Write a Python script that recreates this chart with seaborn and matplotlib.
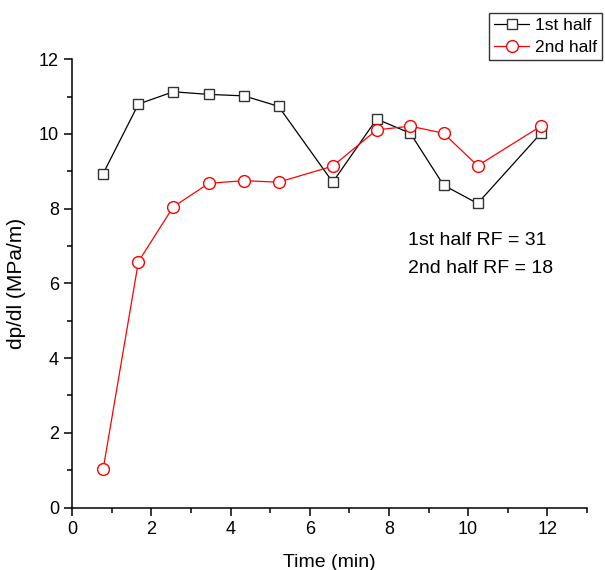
import numpy as np
import pandas as pd
import matplotlib
matplotlib.use('Agg')
import matplotlib.pyplot as plt
import seaborn as sns
from matplotlib.ticker import MultipleLocator

# values
time_1st = [0.78, 1.67, 2.55, 3.45, 4.34, 5.21, 6.58, 7.69, 8.54, 9.38, 10.24, 11.84]
dpdl_1st = [8.94, 10.80, 11.13, 11.06, 11.02, 10.74, 8.71, 10.40, 10.02, 8.63, 8.14, 10.02]

time_2nd = [0.78, 1.67, 2.55, 3.45, 4.34, 5.21, 6.58, 7.69, 8.54, 9.38, 10.24, 11.84]
dpdl_2nd = [1.03, 6.58, 8.05, 8.68, 8.75, 8.71, 9.14, 10.11, 10.21, 10.02, 9.15, 10.21]

series_labels = ['1st half', '2nd half']
notes = ['1st half RF = 31', '2nd half RF = 18']

sns.set_style('ticks')
plt.rcParams['font.family'] = ['Liberation Sans', 'DejaVu Sans']
plt.rcParams.update({'text.color': 'black', 'axes.labelcolor': 'black',
                     'xtick.color': 'black', 'ytick.color': 'black'})

fig = plt.figure(figsize=(6.05, 5.70), dpi=100)
ax = fig.add_axes([0.1195, 0.1096, 0.8505, 0.7864])

df1 = pd.DataFrame({'t': time_1st, 'v': dpdl_1st})
df2 = pd.DataFrame({'t': time_2nd, 'v': dpdl_2nd})

sns.lineplot(data=df1, x='t', y='v', ax=ax, color='black', lw=0.9,
             marker='s', ms=7.5, mfc='white', mec='#333333', mew=1.0,
             label=series_labels[0])
sns.lineplot(data=df2, x='t', y='v', ax=ax, color='red', lw=0.9,
             marker='o', ms=8.5, mfc='white', mec='red', mew=1.0,
             label=series_labels[1])

ax.set_xlim(0, 13)
ax.set_ylim(0, 12)
ax.xaxis.set_major_locator(MultipleLocator(2))
ax.xaxis.set_minor_locator(MultipleLocator(1))
ax.yaxis.set_major_locator(MultipleLocator(2))
ax.yaxis.set_minor_locator(MultipleLocator(1))
ax.tick_params(which='major', direction='out', length=6, width=1.1, labelsize=13)
ax.tick_params(which='minor', direction='out', length=3.5, width=1.1)
for s in ['top', 'right']:
    ax.spines[s].set_visible(False)
for s in ['left', 'bottom']:
    ax.spines[s].set_linewidth(1.1)
    ax.spines[s].set_color('black')

ax.set_xlabel('Time (min)', fontsize=14, labelpad=12)
ax.set_ylabel('dp/dl (MPa/m)', fontsize=15, labelpad=9)

ax.text(8.48, 7.14, notes[0], fontsize=14, va='center', ha='left')
ax.text(8.48, 6.40, notes[1], fontsize=14, va='center', ha='left')

leg = ax.legend(loc='upper left', bbox_to_anchor=(489 / 605, 1 - 13 / 570),
                bbox_transform=fig.transFigure, borderaxespad=0, borderpad=0.3,
                fancybox=False, frameon=True, fontsize=12.5, handlelength=2.0,
                handletextpad=0.35, labelspacing=0.35)
leg.get_frame().set_edgecolor('black')
leg.get_frame().set_linewidth(1.0)

fig.savefig('out.png', dpi=100, facecolor='white')
